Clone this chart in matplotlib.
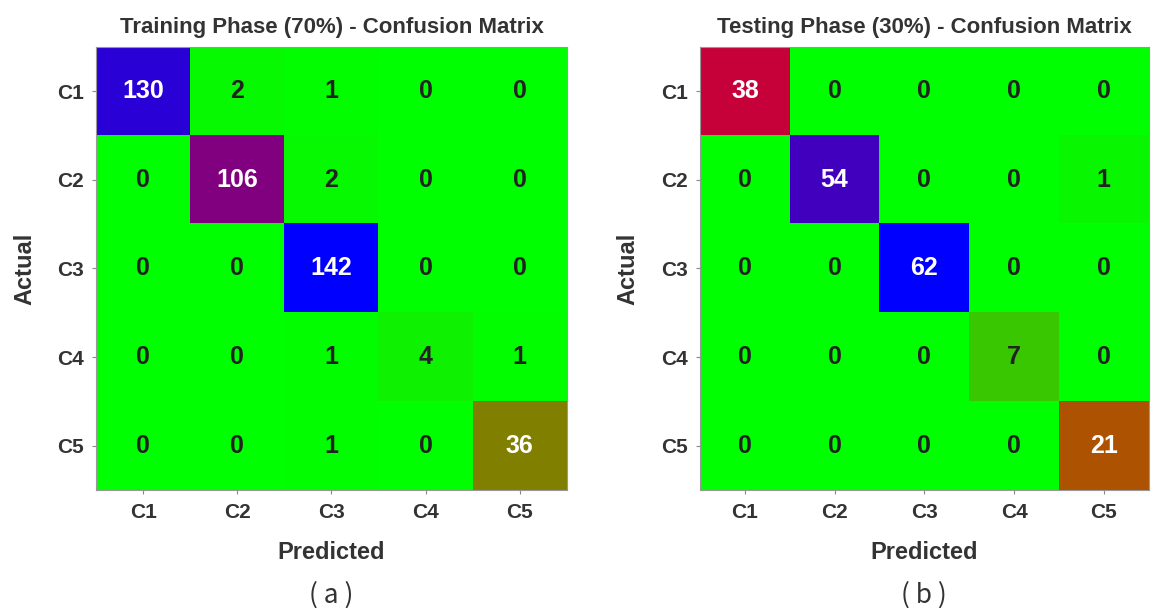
import numpy as np
import matplotlib.pyplot as plt

classes = ["C1", "C2", "C3", "C4", "C5"]

train_cm = np.array([
    [130, 2, 1, 0, 0],
    [0, 106, 2, 0, 0],
    [0, 0, 142, 0, 0],
    [0, 0, 1, 4, 1],
    [0, 0, 1, 0, 36],
])

test_cm = np.array([
    [38, 0, 0, 0, 0],
    [0, 54, 0, 0, 1],
    [0, 0, 62, 0, 0],
    [0, 0, 0, 7, 0],
    [0, 0, 0, 0, 21],
])

titles = ["Training Phase (70%) - Confusion Matrix",
          "Testing Phase (30%) - Confusion Matrix"]
panel_tags = ["( a )", "( b )"]

plt.rcParams['font.family'] = ['Liberation Sans', 'DejaVu Sans']
label_col = "#333333"

fig = plt.figure(figsize=(11.59, 6.08), dpi=100)
boxes = [[0.083, 0.194, 0.406, 0.729], [0.604, 0.194, 0.387, 0.729]]


def draw_cm(ax, cm, title, tag):
    ax.imshow(cm, cmap="brg_r", vmin=0, vmax=cm.max(), aspect="auto")
    for i in range(cm.shape[0]):
        for j in range(cm.shape[1]):
            v = cm[i, j]
            col = "white" if v > 0.2 * cm.max() else "#222222"
            ax.text(j, i, str(v), ha="center", va="center", color=col,
                    fontsize=18, fontweight="bold")
    ax.set_xticks(range(len(classes)))
    ax.set_yticks(range(len(classes)))
    ax.set_xticklabels(classes, fontsize=15, fontweight="bold", color=label_col)
    ax.set_yticklabels(classes, fontsize=15, fontweight="bold", color=label_col)
    ax.tick_params(length=3, color="#888888", pad=6)
    for s in ax.spines.values():
        s.set_color("#999999")
        s.set_linewidth(0.8)
    ax.set_title(title, fontsize=16, fontweight="bold", color=label_col, pad=10)
    ax.set_xlabel("Predicted", fontsize=17, fontweight="bold", color=label_col, labelpad=14)
    ax.set_ylabel("Actual", fontsize=17, fontweight="bold", color=label_col, labelpad=15)
    ax.text(0.5, -0.237, tag, transform=ax.transAxes, ha="center", va="center",
            fontsize=19, color=label_col,
            family=['Noto Sans CJK SC', 'DejaVu Sans'])


for box, cm, title, tag in zip(boxes, [train_cm, test_cm], titles, panel_tags):
    ax = fig.add_axes(box)
    draw_cm(ax, cm, title, tag)

fig.savefig("out.png", dpi=100)
